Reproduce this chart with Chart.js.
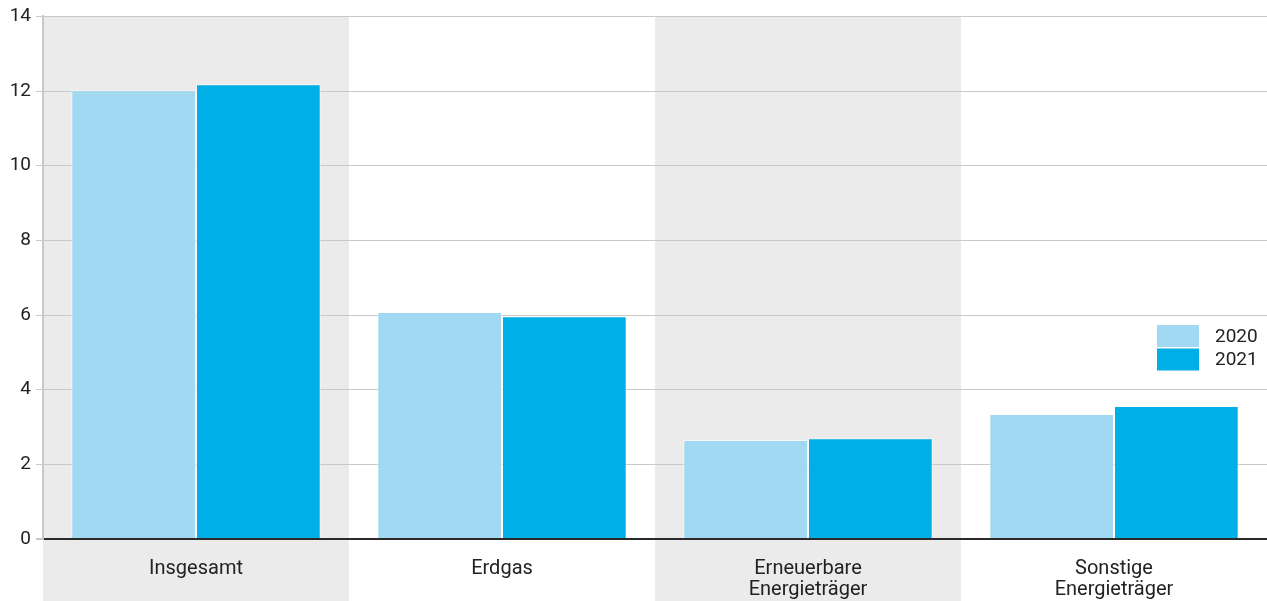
<!DOCTYPE html>
<html><head><meta charset="utf-8">
<script src="https://cdn.jsdelivr.net/npm/chart.js@4"></script>
<style>html,body{margin:0;padding:0;background:#fff;}#wrap{width:1267px;height:601px;position:relative;}</style>
</head><body><div id="wrap"><canvas id="c"></canvas></div>
<script>
const categories = ['Insgesamt', 'Erdgas', ['Erneuerbare', 'Energieträger'], ['Sonstige', 'Energieträger']];
const values2020 = [12.02, 6.08, 2.65, 3.35];
const values2021 = [12.18, 5.97, 2.70, 3.56];
const seriesLabels = ['2020', '2021'];
const yTicks = [0, 2, 4, 6, 8, 10, 12, 14];
const shadedCategories = [0, 2];

const FONT = 'Roboto, "Liberation Sans", sans-serif';

const bandPlugin = {
  id: 'bands',
  beforeDraw(chart) {
    const {ctx, chartArea, scales} = chart;
    const x = scales.x;
    const n = categories.length;
    const w = (chartArea.right - chartArea.left) / n;
    ctx.save();
    ctx.fillStyle = '#ebebeb';
    shadedCategories.forEach(i => {
      const cx = x.getPixelForValue(i);
      ctx.fillRect(cx - w / 2, chartArea.top, w, chart.height - chartArea.top);
    });
    ctx.restore();
  }
};

const legendPlugin = {
  id: 'customLegend',
  afterDraw(chart) {
    const {ctx} = chart;
    ctx.save();
    ctx.font = '19px ' + FONT;
    ctx.textBaseline = 'middle';
    chart.data.datasets.forEach((ds, i) => {
      const y = 325 + i * 23.5;
      ctx.fillStyle = ds.backgroundColor;
      ctx.fillRect(1157, y, 42, 22);
      ctx.fillStyle = '#222';
      ctx.fillText(ds.label, 1215, y + 12);
    });
    ctx.restore();
  }
};

new Chart(document.getElementById('c'), {
  type: 'bar',
  data: {
    labels: categories,
    datasets: [
      {label: seriesLabels[0], data: values2020, backgroundColor: '#a2d9f2', borderColor: 'rgba(255,255,255,0.6)', borderWidth: 1, categoryPercentage: 0.815, barPercentage: 1.0},
      {label: seriesLabels[1], data: values2021, backgroundColor: '#00afe5', borderColor: 'rgba(255,255,255,0.5)', borderWidth: 1, categoryPercentage: 0.815, barPercentage: 1.0}
    ]
  },
  options: {
    responsive: true,
    maintainAspectRatio: false,
    animation: false,
    layout: {padding: {top: 7, right: 0, left: 0, bottom: 0}},
    plugins: {legend: {display: false}, tooltip: {enabled: false}},
    scales: {
      x: {
        grid: {display: false, drawTicks: false},
        border: {display: false},
        ticks: {font: {family: FONT, size: 20, lineHeight: 1.05}, color: '#222', padding: 19, maxRotation: 0, autoSkip: false},
        afterFit(s) { s.height = 62; }
      },
      y: {
        min: 0, max: 14,
        afterBuildTicks(s) { s.ticks = yTicks.map(v => ({value: v})); },
        grid: {
          color: c => (c.tick && c.tick.value === 0) ? '#2a2a2a' : '#c8c8c8',
          lineWidth: c => (c.tick && c.tick.value === 0) ? 2 : 1,
          tickColor: '#c8c8c8',
          tickLength: 7
        },
        border: {display: true, color: '#c8c8c8', width: 2},
        ticks: {font: {family: FONT, size: 19}, color: '#222', padding: 5},
        afterFit(s) { s.width = 43; }
      }
    }
  },
  plugins: [bandPlugin, legendPlugin]
});
</script></body></html>
